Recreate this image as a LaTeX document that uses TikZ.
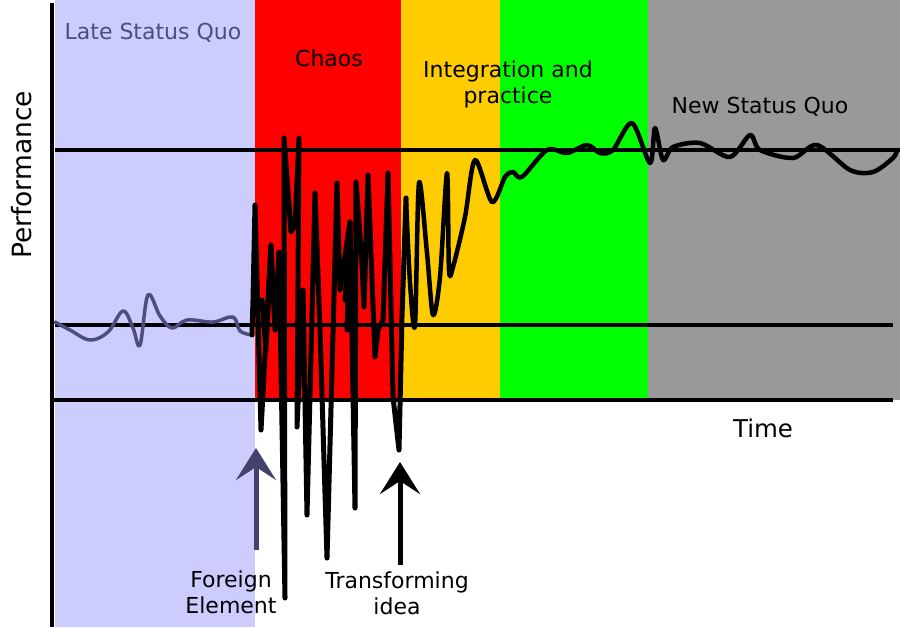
\documentclass[tikz,border=0pt]{standalone}
\usepackage{fontspec}
\setmainfont{DejaVu Sans}
\usetikzlibrary{arrows.meta}
\definecolor{lav}{RGB}{204,204,255}
\definecolor{chaosred}{RGB}{255,0,0}
\definecolor{integ}{RGB}{255,204,0}
\definecolor{newgreen}{RGB}{0,255,0}
\definecolor{nsq}{RGB}{153,153,153}
\definecolor{slate}{RGB}{77,77,128}
\tikzset{
  lbl/.style={font=\fontsize{22}{26}\selectfont, align=center, inner sep=0pt},
  axisline/.style={line width=4pt, black},
  refline/.style={line width=3.5pt, black},
  perf/.style={line width=5pt, black, line join=round, line cap=round},
  perfb/.style={line width=4.5pt, black, line join=round, line cap=round},
  oldperf/.style={line width=3.5pt, slate, line join=round, line cap=round},
  upArrow/.style={line width=5pt, -{Stealth[length=32pt,width=40pt,inset=13pt]}},
}
\begin{document}
\begin{tikzpicture}[x=1pt,y=-1pt]
\useasboundingbox (0,0) rectangle (900,627);
% bands
\fill[lav] (55,0) rectangle (255,627);
\fill[chaosred] (255,0) rectangle (401,400);
\fill[integ] (401,0) rectangle (500,400);
\fill[newgreen] (500,0) rectangle (648,400);
\fill[nsq] (648,0) rectangle (900,400);
% reference lines
\coordinate (h1a) at (55,150); \coordinate (h1b) at (900,150);
\coordinate (h2a) at (55,325); \coordinate (h2b) at (893,325);
\coordinate (h3a) at (52,400); \coordinate (h3b) at (893,400);
\draw[refline] (h1a) -- (h1b);
\draw[refline] (h2a) -- (h2b);
\draw[refline] (h3a) -- (h3b);
% vertical axis
\coordinate (ya) at (52,3); \coordinate (yb) at (52,627);
\draw[axisline] (ya) -- (yb);
% old status quo performance
\draw[oldperf] plot[smooth, tension=0.6] coordinates {(55,322) (70,330) (90,340) (108,332) (123,311) (133,328) (140,345) (148,295) (160,316) (172,328) (187,320) (213,322) (233,317) (240,331) (252,335)};
% chaos
\draw[perf] (252,335) -- (253,300) -- (255,205) -- (261,430) -- (271,245) -- (275,330) -- (279,252) -- (285,598) -- (284,138) -- (291,232) -- (295,225) -- (299,138) -- (297,427) -- (303,290) -- (307,515) -- (315,193) -- (320,330) -- (327,558) -- (337,183) -- (340,290) -- (350,222) -- (355,508) -- (356,182) -- (362,263) -- (364,307) -- (368,175) -- (375,357) -- (378,330) -- (383,320) -- (388,173) -- (393,397) -- (399,450) -- (402,317) -- (406,198);
\draw[perf] (262,300) -- (266,350) -- (271,245);
\draw[perf] (345,300) -- (350,222) -- (347,330);
% integration and onwards
\draw[perfb] plot[smooth, tension=0.5] coordinates {(406,198) (410,283) (415,325) (419,183) (427,253) (433,315) (440,277) (447,173) (449,270) (453,267) (465,217) (475,160) (492,202) (505,177) (513,172) (522,177) (547,150) (567,153) (587,145) (600,153) (613,150) (632,123) (650,163) (655,128) (663,160) (673,147) (700,143) (730,157) (750,135) (760,150) (793,158) (817,145) (850,170) (873,172) (893,158) (897,150)};
% arrows
\coordinate (fe0) at (256,550); \coordinate (fe1) at (256,448);
\draw[upArrow, slate!85!black] (fe0) -- (fe1);
\coordinate (ti0) at (400,565); \coordinate (ti1) at (400,462);
\draw[upArrow, black] (ti0) -- (ti1);
% labels
\node[lbl, text=slate] (lsq) at (153,33) {Late Status Quo};
\node[lbl] (chaos) at (329,58) {Chaos};
\node[lbl] (integ) at (508,84) {Integration and\\practice};
\node[lbl] (nsqt) at (760,107) {New Status Quo};
\node[lbl, font=\fontsize{24.5}{28}\selectfont] (time) at (763,428) {Time};
\node[lbl, font=\fontsize{26.5}{30}\selectfont, rotate=90] (perfl) at (22,175) {Performance};
\node[lbl] (fel) at (231,592) {Foreign\\Element};
\node[lbl] (til) at (397,593) {Transforming\\idea};
\end{tikzpicture}
\end{document}
